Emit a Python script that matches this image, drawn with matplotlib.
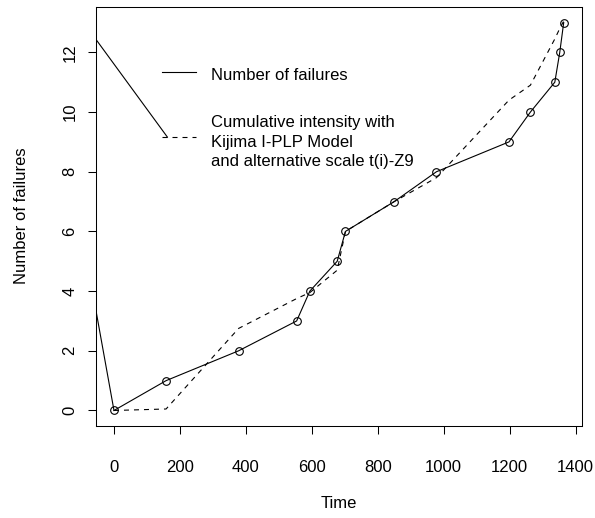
import matplotlib
matplotlib.use("Agg")
import matplotlib.pyplot as plt
import numpy as np

plt.rcParams["font.family"] = ["Liberation Sans", "DejaVu Sans"]

# ================================
# %% Data
# ++++++++++++++++++++++++++++++++

# Failure times and cumulative number of failures
fail_time = [0, 158, 378, 554, 594, 677, 702, 850, 978, 1198, 1263, 1337, 1352, 1364]
fail_count = [0, 1, 2, 3, 4, 5, 6, 7, 8, 9, 10, 11, 12, 13]

# Cumulative intensity (Kijima I-PLP, alternative scale t(i)-Z9) at the same times
cum_intensity = [0, 0.05, 2.75, 3.75, 3.95, 4.7, 6.0, 7.0, 7.8, 10.4, 10.9, 12.45, 12.8, 13.05]

# Stray solid segments that run off the left edge in the original
stray_a_x = [-110, 0]
stray_a_y = [6.74, 0]
stray_b_x = [-110, 162]
stray_b_y = [13.27, 9.16]

legend_labels = [
    "Number of failures",
    "Cumulative intensity with\nKijima I-PLP Model\nand alternative scale t(i)-Z9",
]

x_ticks = np.arange(0, 1401, 200)
y_ticks = np.arange(0, 13, 2)

# ================================
# %% Plot
# ++++++++++++++++++++++++++++++++

W, H = 595, 518
fs = 12
fig = plt.figure(figsize=(W / 100, H / 100), dpi=100)
ax = fig.add_axes([96 / W, 1 - 426 / H, (581.7 - 96) / W, (426 - 7) / H])

lw = 0.8
ax.plot(fail_time, fail_count, color="black", lw=lw, marker="o", ms=5.5,
        mfc="none", mec="black", mew=lw)
ax.plot(fail_time, cum_intensity, color="black", lw=lw, dashes=(4.5, 4.5))
ax.plot(stray_a_x, stray_a_y, color="black", lw=lw)
ax.plot(stray_b_x, stray_b_y, color="black", lw=lw)

# R-style 4% padding
xr = max(fail_time) - min(fail_time)
yr = max(fail_count) - min(fail_count)
ax.set_xlim(min(fail_time) - 0.04 * xr, max(fail_time) + 0.04 * xr)
ax.set_ylim(min(fail_count) - 0.04 * yr, max(fail_count) + 0.04 * yr)

ax.set_xticks(x_ticks)
ax.set_yticks(y_ticks)
ax.tick_params(direction="out", length=5.8, width=0.75, labelsize=fs, color="black")
ax.tick_params(axis="x", pad=18.5)
ax.tick_params(axis="y", pad=7.5, labelrotation=90)
for t in ax.get_yticklabels():
    t.set_va("center")
for s in ax.spines.values():
    s.set_linewidth(0.75)

fig.text(339 / W, 1 - 504 / H, "Time", ha="center", va="center", fontsize=fs)
fig.text(22 / W, 1 - 216 / H, "Number of failures", ha="center", va="center",
         rotation=90, fontsize=fs)

# Legend drawn by hand (no box), like R's legend(bty="n")
fig.add_artist(plt.Line2D([162 / W, 196 / W], [1 - 72 / H, 1 - 72 / H],
                          color="black", lw=lw))
fig.add_artist(plt.Line2D([162 / W, 196 / W], [1 - 137 / H, 1 - 137 / H],
                          color="black", lw=lw, dashes=(4.5, 4.5)))
fig.text(211 / W, 1 - 76 / H, legend_labels[0], ha="left", va="center", fontsize=fs)
fig.text(211 / W, 1 - 142 / H, legend_labels[1], ha="left", va="center",
         fontsize=fs, linespacing=1.4)

fig.savefig("out.png", dpi=100)
